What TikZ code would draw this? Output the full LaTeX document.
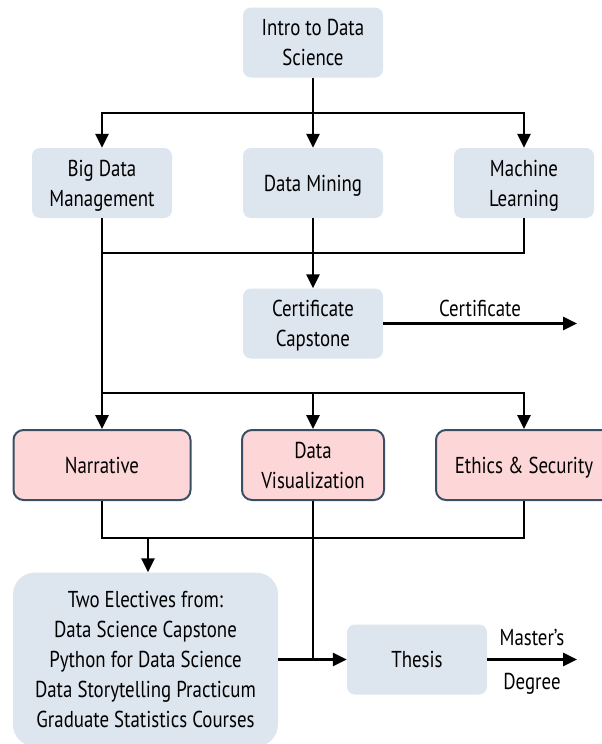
\documentclass[tikz,border=0pt]{standalone}
\usepackage{fontspec}
\setmainfont{PT Sans}[FakeStretch=0.82]
\usetikzlibrary{arrows.meta}
\definecolor{boxblue}{HTML}{DDE5EF}
\definecolor{boxpink}{HTML}{FDD7D7}
\definecolor{boxedge}{HTML}{3A4F63}
\begin{document}
\begin{tikzpicture}[x=1pt,y=-1pt,
  txt/.style={font=\fontsize{23}{30}\selectfont},
  course/.style={txt, fill=boxblue, rounded corners=8pt, minimum width=140pt, minimum height=70pt, align=center, inner sep=0pt, text depth=0pt},
  core/.style={txt, fill=boxpink, draw=boxedge, line width=2pt, rounded corners=10pt, minimum height=70pt, align=center, inner sep=0pt, text depth=0pt},
  conn/.style={line width=2.7pt},
  arr/.style={conn, -{Triangle[length=14pt,width=13pt]}}]
\useasboundingbox (0,0) rectangle (602,744);
\node[course] (intro) at (313,42.5) {Intro to Data\\Science};
\node[course] (bdm) at (102,183) {Big Data\\Management};
\node[course] (dm) at (313,183) {Data Mining};
\node[course] (ml) at (524,183) {Machine\\Learning};
\node[course] (cap) at (313,323.5) {Certificate\\Capstone};
\node[core, minimum width=177pt] (narr) at (102,465) {Narrative};
\node[core, minimum width=142pt] (viz) at (313,465) {Data\\Visualization};
\node[core, minimum width=176pt] (eth) at (524,465) {Ethics \& Security};
\node[course, rounded corners=22pt, minimum width=265pt, minimum height=174pt] (elec) at (145.5,659.5) {Two Electives from:\\Data Science Capstone\\Python for Data Science\\Data Storytelling Practicum\\Graduate Statistics Courses};
\node[course] (thesis) at (417,659.5) {Thesis};
\coordinate (t1) at (313,113);
\coordinate (j2) at (313,253);
\coordinate (j3) at (102,393);
\coordinate (j4) at (148,538);
\coordinate (j5) at (313,659.5);
\coordinate (certend) at (577,323.5);
\coordinate (mastend) at (577,659.5);
\draw[arr] (intro.south) -- (dm.north);
\draw[arr] (t1) -| (bdm.north);
\draw[arr] (t1) -| (ml.north);
\draw[conn] (bdm.south) |- (j2);
\draw[conn] (ml.south) |- (j2);
\draw[arr] (dm.south) -- (cap.north);
\draw[arr] (cap.east) -- (certend);
\node[txt] (certlbl) at (480,308) {Certificate};
\draw[arr] (bdm.south) -- (narr.north);
\draw[arr] (j3) -| (viz.north);
\draw[arr] (j3) -| (eth.north);
\draw[conn] (narr.south) |- (eth.south |- j4) -- (eth.south);
\draw[arr] (j4) -- (j4 |- elec.north);
\draw[conn] (viz.south) -- (j5);
\draw[arr] (elec.east) -- (thesis.west);
\draw[arr] (thesis.east) -- (mastend);
\node[txt] (mlbl) at (532,637) {Master’s};
\node[txt] (dlbl) at (532,684) {Degree};
\end{tikzpicture}
\end{document}
